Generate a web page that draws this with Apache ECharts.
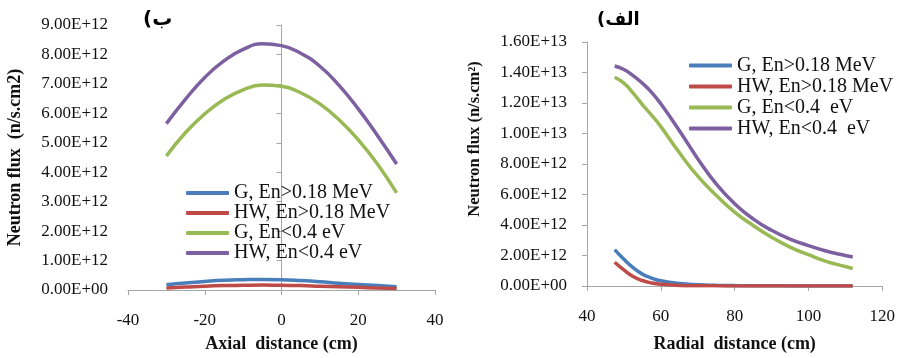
<!DOCTYPE html>
<html>
<head>
<meta charset="utf-8">
<script src="https://cdn.jsdelivr.net/npm/echarts@6/dist/echarts.min.js"></script>
<style>
  html, body { margin: 0; padding: 0; background: #fff; }
  #main { width: 898px; height: 358px; }
</style>
</head>
<body>
<div id="main"></div>
<script>
// values in units of 1E+12 n/s.cm2
var axialX = [-30, -25, -20, -15, -10, -5, 0, 5, 10, 15, 20, 25, 30];
var axialG_fast = [0.18, 0.24, 0.29, 0.33, 0.35, 0.36, 0.35, 0.32, 0.28, 0.23, 0.19, 0.15, 0.11];
var axialHW_fast = [0.07, 0.10, 0.13, 0.15, 0.16, 0.17, 0.16, 0.15, 0.13, 0.11, 0.09, 0.07, 0.05];
var axialG_th = [4.55, 5.35, 5.98, 6.47, 6.80, 6.96, 6.92, 6.70, 6.32, 5.78, 5.10, 4.28, 3.30];
var axialHW_th = [5.65, 6.48, 7.22, 7.78, 8.17, 8.36, 8.30, 8.04, 7.60, 6.95, 6.15, 5.25, 4.28];

var radialX = [47.5, 50, 52.5, 55, 57.5, 60, 65, 70, 75, 80, 85, 90, 95, 100, 105, 110, 112];
var radialG_fast = [2.39, 1.75, 1.20, 0.78, 0.52, 0.34, 0.16, 0.08, 0.045, 0.025, 0.015, 0.01, 0.007, 0.005, 0.004, 0.003, 0.003];
var radialHW_fast = [1.56, 1.05, 0.62, 0.36, 0.20, 0.11, 0.04, 0.02, 0.01, 0.006, 0.004, 0.003, 0.002, 0.002, 0.002, 0.002, 0.002];
var radialG_th = [13.69, 13.30, 12.65, 11.90, 11.20, 10.45, 8.75, 7.20, 5.95, 4.85, 3.97, 3.20, 2.55, 2.05, 1.60, 1.28, 1.15];
var radialHW_th = [14.43, 14.20, 13.80, 13.30, 12.70, 11.95, 10.20, 8.35, 6.70, 5.40, 4.40, 3.65, 3.08, 2.65, 2.28, 2.00, 1.90];

var namesLeft = ['G, En>0.18 MeV', 'HW, En>0.18 MeV', 'G, En<0.4 eV', 'HW, En<0.4 eV'];
var namesRight = ['G, En>0.18 MeV', 'HW, En>0.18 MeV', 'G, En<0.4  eV', 'HW, En<0.4  eV'];
var colors = ['#4a7ebb', '#be4b48', '#98b954', '#7d60a0'];

var serif = '"Liberation Serif", "DejaVu Serif", serif';

function sci(v) {
  var s = (v * 1e12).toExponential(2).toUpperCase();
  return s.replace(/E([+-])(\d)$/, 'E$10$2');
}

function pairs(xs, ys) {
  return xs.map(function (x, i) { return [x, ys[i]]; });
}

function line(name, xi, yi, xs, ys, c) {
  return {
    name: name, type: 'line', xAxisIndex: xi, yAxisIndex: yi,
    data: pairs(xs, ys), smooth: 0.5,
    symbol: 'none', lineStyle: {width: 3.5, color: c}, itemStyle: {color: c}
  };
}

var axisLine = {show: true, lineStyle: {color: '#a6a6a6', width: 1}};
var axisTick = {show: true, length: 5, lineStyle: {color: '#a6a6a6'}};

var chart = echarts.init(document.getElementById('main'));
chart.setOption({
  animation: false,
  grid: [
    {left: 128, top: 25, width: 307, height: 273},
    {left: 587, top: 42, width: 296, height: 252}
  ],
  legend: [
    {
      data: namesLeft, orient: 'vertical', left: 181, top: 178,
      icon: 'roundRect', itemWidth: 43, itemHeight: 4, itemGap: 0,
      textStyle: {fontFamily: serif, fontSize: 20, color: '#111', lineHeight: 19}
    },
    {
      data: namesRight, orient: 'vertical', left: 684, top: 50,
      icon: 'roundRect', itemWidth: 43, itemHeight: 4, itemGap: 0,
      textStyle: {fontFamily: serif, fontSize: 20, color: '#111', lineHeight: 21}
    }
  ],
  graphic: [
    {type: 'text', left: 143, top: 10, style: {text: '(ب', font: 'bold 20px "DejaVu Sans"', fill: '#000'}},
    {type: 'text', left: 597, top: 11, style: {text: '(الف', font: 'bold 18px "DejaVu Sans"', fill: '#000'}}
  ],
  xAxis: [
    {
      type: 'value', gridIndex: 0, min: -40, max: 40, interval: 20,
      name: 'Axial  distance (cm)', nameLocation: 'middle', nameGap: 45,
      nameTextStyle: {fontFamily: serif, fontSize: 18, fontWeight: 'bold', color: '#111'},
      axisLine: axisLine, axisTick: axisTick, splitLine: {show: false},
      axisLabel: {fontFamily: serif, fontSize: 17, color: '#111', margin: 22}
    },
    {
      type: 'value', gridIndex: 1, min: 40, max: 120, interval: 20,
      name: 'Radial  distance (cm)', nameLocation: 'middle', nameGap: 49,
      nameTextStyle: {fontFamily: serif, fontSize: 18, fontWeight: 'bold', color: '#111'},
      axisLine: axisLine, axisTick: axisTick, splitLine: {show: false},
      axisLabel: {fontFamily: serif, fontSize: 17, color: '#111', margin: 22}
    }
  ],
  yAxis: [
    {
      type: 'value', gridIndex: 0, min: 0, max: 9, interval: 1,
      name: 'Neutron flux  (n/s.cm2)', nameLocation: 'middle', nameGap: 104, nameRotate: 90,
      nameTextStyle: {fontFamily: serif, fontSize: 18, fontWeight: 'bold', color: '#111'},
      axisLine: axisLine, axisTick: axisTick, splitLine: {show: false},
      axisLabel: {fontFamily: serif, fontSize: 17, color: '#111', margin: 20, formatter: sci}
    },
    {
      type: 'value', gridIndex: 1, min: 0, max: 16, interval: 2,
      name: 'Neutron flux (n/s.cm²)', nameLocation: 'middle', nameGap: 104, nameRotate: 90,
      nameTextStyle: {fontFamily: serif, fontSize: 16.5, fontWeight: 'bold', color: '#111', padding: [0, 0, 0, 50]},
      axisLine: axisLine, axisTick: axisTick, splitLine: {show: false},
      axisLabel: {fontFamily: serif, fontSize: 17, color: '#111', margin: 20, formatter: sci}
    }
  ],
  series: [
    line(namesLeft[0], 0, 0, axialX, axialG_fast, colors[0]),
    line(namesLeft[1], 0, 0, axialX, axialHW_fast, colors[1]),
    line(namesLeft[2], 0, 0, axialX, axialG_th, colors[2]),
    line(namesLeft[3], 0, 0, axialX, axialHW_th, colors[3]),
    line(namesRight[0], 1, 1, radialX, radialG_fast, colors[0]),
    line(namesRight[1], 1, 1, radialX, radialHW_fast, colors[1]),
    line(namesRight[2], 1, 1, radialX, radialG_th, colors[2]),
    line(namesRight[3], 1, 1, radialX, radialHW_th, colors[3])
  ]
});
</script>
</body>
</html>
